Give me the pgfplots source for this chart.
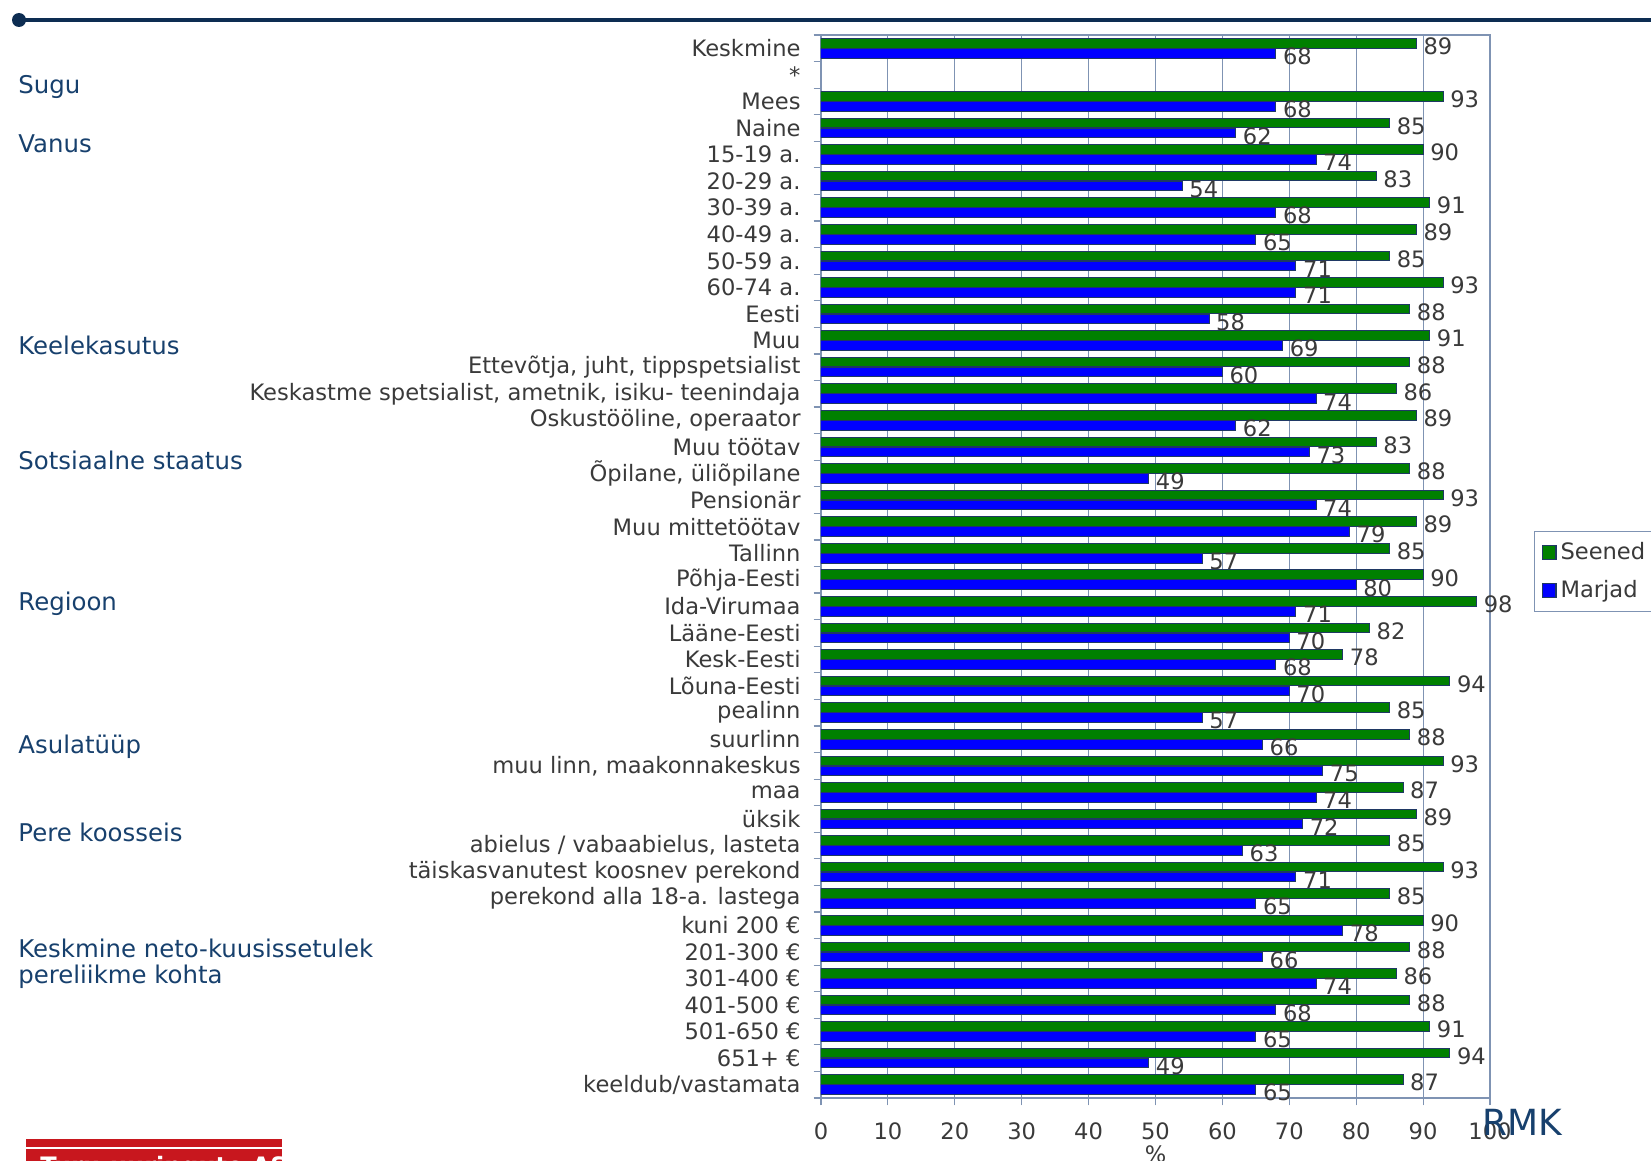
\documentclass[border=0pt]{standalone}
\usepackage{fontspec}
\setmainfont{DejaVu Sans}
\usepackage{pgfplots}
\pgfplotsset{compat=1.18}

\definecolor{seened}{HTML}{008000}
\definecolor{marjad}{HTML}{0000FF}
\definecolor{barline}{HTML}{1F3864}
\definecolor{gridc}{HTML}{7F93B3}
\definecolor{txt}{HTML}{3A3A3A}
\definecolor{navy}{HTML}{17406D}
\definecolor{topline}{HTML}{0D2D52}
\definecolor{logored}{HTML}{C8171E}

\newcommand{\lab}{\fontsize{11.3}{13}\selectfont}
\newcommand{\grp}{\fontsize{12.2}{14}\selectfont}

\begin{document}
\begin{tikzpicture}
\useasboundingbox (0,0) rectangle (825.5pt,-580.5pt);

% header line
\draw[topline, line width=2pt] (9.5pt,-10pt) -- (830pt,-10pt);
\fill[topline] (9.5pt,-10pt) circle (3.5pt);

% group labels
\begin{scope}[every node/.style={anchor=west, text=navy, font=\grp, inner sep=0pt}]
  \node at (9pt,-43.7pt) {Sugu};
  \node at (9pt,-72pt) {Vanus};
  \node at (9pt,-172.7pt) {Keelekasutus};
  \node at (9pt,-230pt) {Sotsiaalne staatus};
  \node at (9pt,-301.7pt) {Regioon};
  \node at (9pt,-373.3pt) {Asulatüüp};
  \node at (9pt,-416.4pt) {Pere koosseis};
  \node at (9pt,-474pt) {Keskmine neto-kuusissetulek};
  \node at (9pt,-488.5pt) {pereliikme kohta};
\end{scope}

\begin{axis}[
    at={(410.5pt,-17.5pt)}, anchor=north west,
    scale only axis,
    width=334.5pt, height=531.5pt,
    xbar, bar width=4.8pt,
    xmin=0, xmax=100,
    ymin=-0.5, ymax=39.5,
    y dir=reverse,
    xtick={0,10,...,100},
    ytick={0,...,39},
    yticklabels={Keskmine,*,Mees,Naine,15-19 a.,20-29 a.,30-39 a.,40-49 a.,50-59 a.,60-74 a.,Eesti,Muu,{Ettevõtja, juht, tippspetsialist},{Keskastme spetsialist, ametnik, isiku- teenindaja},{Oskustööline, operaator},Muu töötav,{Õpilane, üliõpilane},Pensionär,Muu mittetöötav,Tallinn,Põhja-Eesti,Ida-Virumaa,Lääne-Eesti,Kesk-Eesti,Lõuna-Eesti,pealinn,suurlinn,{muu linn, maakonnakeskus},maa,üksik,{abielus / vabaabielus, lasteta},täiskasvanutest koosnev perekond,perekond alla 18-a. lastega,kuni 200 €,201-300 €,301-400 €,401-500 €,501-650 €,651+ €,keeldub/vastamata},
    minor ytick={-0.5,0.5,...,39.5},
    tick pos=left,
    tick align=outside,
    major tick length=3.7pt, minor tick length=3.7pt,
    major y tick style={draw=none},
    tick style={gridc, line width=0.6pt},
    axis line style={gridc, line width=0.8pt},
    xmajorgrids, major x grid style={gridc, line width=0.6pt},
    ticklabel style={font=\lab, text=txt},
    yticklabel style={xshift=-3pt},
    xticklabel style={yshift=-5pt},
    /pgf/number format/assume math mode=true,
    xlabel={\%},
    xlabel style={at={(axis description cs:0.5,0)}, anchor=center, yshift=-28pt, font=\lab, text=txt},
    nodes near coords,
    nodes near coords align=horizontal,
    every node near coord/.append style={font=\lab, text=txt, yshift=-1.5pt},
    legend style={at={(1,0.5)}, anchor=west, xshift=22pt, yshift=-2.5pt, draw=gridc, line width=0.7pt, fill=white, font=\lab, text=txt, inner sep=3.5pt, row sep=5pt, cells={anchor=west}},
    legend image code/.code={\draw[#1, draw=barline, line width=0.6pt] (0pt,-3.4pt) rectangle (6.8pt,3.4pt);},
]
\addplot[fill=seened, draw=barline, line width=0.5pt, bar shift=2.5pt] coordinates {
 (89,0) (93,2) (85,3) (90,4) (83,5) (91,6) (89,7) (85,8) (93,9) (88,10)
 (91,11) (88,12) (86,13) (89,14) (83,15) (88,16) (93,17) (89,18) (85,19) (90,20)
 (98,21) (82,22) (78,23) (94,24) (85,25) (88,26) (93,27) (87,28) (89,29) (85,30)
 (93,31) (85,32) (90,33) (88,34) (86,35) (88,36) (91,37) (94,38) (87,39)};
\addplot[fill=marjad, draw=barline, line width=0.5pt, bar shift=-2.5pt] coordinates {
 (68,0) (68,2) (62,3) (74,4) (54,5) (68,6) (65,7) (71,8) (71,9) (58,10)
 (69,11) (60,12) (74,13) (62,14) (73,15) (49,16) (74,17) (79,18) (57,19) (80,20)
 (71,21) (70,22) (68,23) (70,24) (57,25) (66,26) (75,27) (74,28) (72,29) (63,30)
 (71,31) (65,32) (78,33) (66,34) (74,35) (68,36) (65,37) (49,38) (65,39)};
\legend{Seened,Marjad}
\end{axis}

% RMK mark
\node[text=navy, font=\fontsize{18}{21}\selectfont, inner sep=0pt] at (761pt,-561pt) {RMK};

% logo strip bottom left
\fill[logored] (13pt,-569.5pt) rectangle (141pt,-585pt);
\draw[white, line width=0.8pt] (13pt,-574pt) -- (141pt,-574pt);
\node[anchor=north west, text=white, font=\bfseries\fontsize{12}{14}\selectfont, inner sep=0pt] at (20pt,-578pt) {Turu-uuringute AS};
\end{tikzpicture}
\end{document}
